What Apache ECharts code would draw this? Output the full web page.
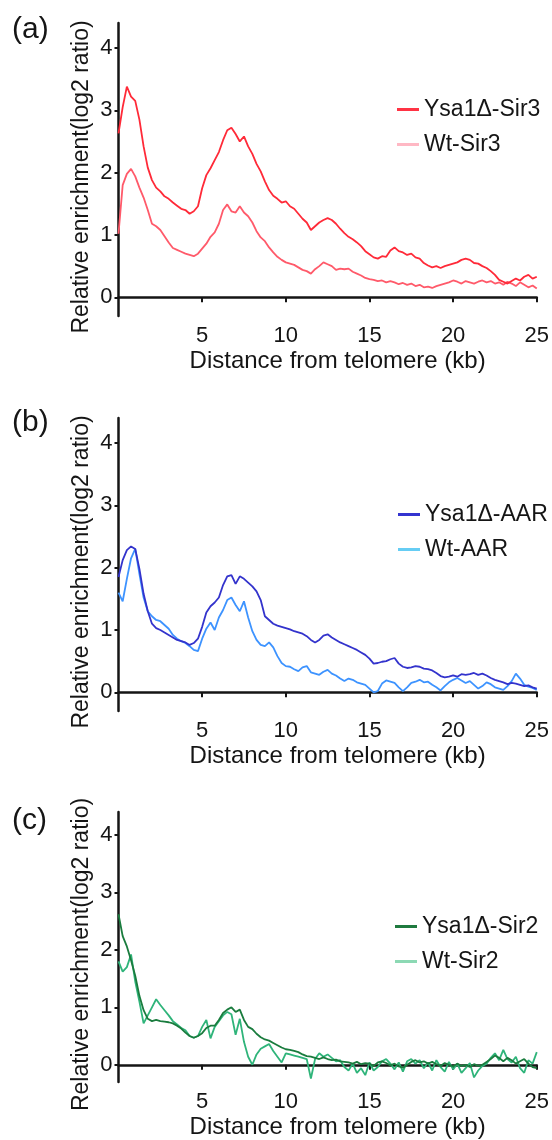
<!DOCTYPE html>
<html>
<head>
<meta charset="utf-8">
<title>Relative enrichment near telomere</title>
<script src="https://cdn.jsdelivr.net/npm/echarts@6/dist/echarts.min.js"></script>
<style>
  html, body { margin: 0; padding: 0; background: #fff; }
  #chart { width: 552px; height: 1140px; }
</style>
</head>
<body>
<div id="chart"></div>
<script>
// distance positions, every 0.25 kb from 0 to 25
const step = 0.25;
const kb = Array.from({ length: 101 }, (_, i) => i * step);

const xTicks = [5, 10, 15, 20, 25];
const yTicks = [0, 1, 2, 3, 4];

// (a) Sir3
const ysaSir3 = [
  2.63, 3.05, 3.38, 3.22, 3.15, 2.85, 2.42, 2.08, 1.88, 1.76, 1.70, 1.62, 1.58, 1.52, 1.47, 1.42, 1.40, 1.34, 1.38, 1.46,
  1.75, 1.96, 2.07, 2.20, 2.33, 2.52, 2.68, 2.72, 2.62, 2.50, 2.58, 2.42, 2.30, 2.14, 2.02, 1.86, 1.72, 1.63, 1.58, 1.52,
  1.54, 1.46, 1.42, 1.34, 1.26, 1.20, 1.08, 1.14, 1.20, 1.24, 1.27, 1.24, 1.18, 1.10, 1.03, 0.97, 0.93, 0.88, 0.82, 0.74,
  0.69, 0.64, 0.62, 0.66, 0.65, 0.75, 0.80, 0.74, 0.72, 0.68, 0.70, 0.64, 0.62, 0.55, 0.51, 0.48, 0.50, 0.47, 0.50, 0.52,
  0.54, 0.56, 0.60, 0.62, 0.60, 0.55, 0.54, 0.50, 0.47, 0.42, 0.36, 0.28, 0.25, 0.22, 0.26, 0.30, 0.27, 0.33, 0.36, 0.30,
  0.33
];
const wtSir3 = [
  1.02, 1.80, 1.98, 2.06, 1.94, 1.76, 1.60, 1.40, 1.18, 1.14, 1.08, 0.98, 0.88, 0.79, 0.76, 0.73, 0.70, 0.68, 0.66, 0.70,
  0.78, 0.86, 0.97, 1.04, 1.18, 1.40, 1.49, 1.38, 1.36, 1.46, 1.36, 1.30, 1.20, 1.06, 0.96, 0.90, 0.80, 0.72, 0.65, 0.60,
  0.56, 0.54, 0.52, 0.48, 0.44, 0.42, 0.38, 0.45, 0.50, 0.56, 0.53, 0.50, 0.44, 0.46, 0.45, 0.46, 0.41, 0.38, 0.35, 0.31,
  0.29, 0.28, 0.26, 0.27, 0.24, 0.26, 0.24, 0.21, 0.23, 0.20, 0.22, 0.18, 0.20, 0.16, 0.17, 0.15, 0.18, 0.20, 0.22, 0.24,
  0.27, 0.25, 0.22, 0.26, 0.24, 0.22, 0.25, 0.27, 0.24, 0.26, 0.22, 0.24, 0.20, 0.25, 0.22, 0.18, 0.24, 0.20, 0.16, 0.19,
  0.14
];

// (b) AAR
const ysaAAR = [
  1.85, 2.12, 2.28, 2.34, 2.30, 1.98, 1.58, 1.30, 1.10, 1.03, 1.00, 0.96, 0.92, 0.88, 0.84, 0.82, 0.80, 0.76, 0.79, 0.86,
  1.05, 1.28, 1.38, 1.44, 1.52, 1.72, 1.86, 1.88, 1.74, 1.86, 1.82, 1.76, 1.70, 1.62, 1.48, 1.22, 1.16, 1.10, 1.07, 1.05,
  1.03, 1.01, 0.98, 0.96, 0.94, 0.90, 0.84, 0.80, 0.84, 0.91, 0.93, 0.88, 0.84, 0.80, 0.77, 0.74, 0.71, 0.68, 0.64, 0.60,
  0.54, 0.46, 0.47, 0.49, 0.50, 0.53, 0.55, 0.46, 0.41, 0.39, 0.40, 0.42, 0.41, 0.38, 0.37, 0.35, 0.31, 0.26, 0.24, 0.25,
  0.27, 0.25, 0.29, 0.28, 0.29, 0.31, 0.28, 0.30, 0.27, 0.23, 0.20, 0.18, 0.16, 0.13, 0.15, 0.14, 0.12, 0.10, 0.11, 0.08,
  0.06
];
const wtAAR = [
  1.60, 1.46, 1.82, 2.15, 2.30, 1.90, 1.52, 1.30, 1.22, 1.16, 1.14, 1.08, 1.02, 0.92, 0.86, 0.82, 0.79, 0.74, 0.68, 0.66,
  0.86, 1.02, 1.12, 1.00, 1.20, 1.32, 1.48, 1.52, 1.40, 1.30, 1.46, 1.20, 0.98, 0.84, 0.76, 0.74, 0.80, 0.72, 0.58, 0.47,
  0.42, 0.41, 0.37, 0.34, 0.40, 0.42, 0.32, 0.30, 0.28, 0.33, 0.36, 0.30, 0.27, 0.22, 0.18, 0.22, 0.20, 0.16, 0.14, 0.12,
  0.06, 0.00, 0.02, 0.14, 0.19, 0.17, 0.15, 0.08, 0.02, 0.08, 0.15, 0.17, 0.20, 0.16, 0.17, 0.12, 0.08, 0.03, 0.10, 0.16,
  0.20, 0.23, 0.19, 0.15, 0.18, 0.12, 0.06, 0.10, 0.16, 0.13, 0.08, 0.06, 0.04, 0.10, 0.18, 0.30, 0.22, 0.12, 0.09, 0.07,
  0.04
];

// (c) Sir2
const ysaSir2 = [
  2.62, 2.24, 2.06, 1.82, 1.55, 1.20, 0.95, 0.80, 0.76, 0.78, 0.76, 0.75, 0.74, 0.72, 0.68, 0.63, 0.56, 0.50, 0.47, 0.50,
  0.55, 0.64, 0.68, 0.68, 0.78, 0.90, 0.96, 1.00, 0.92, 0.96, 0.78, 0.66, 0.62, 0.54, 0.48, 0.44, 0.42, 0.38, 0.34, 0.30,
  0.27, 0.26, 0.24, 0.22, 0.18, 0.15, 0.14, 0.12, 0.10, 0.13, 0.10, 0.08, 0.09, 0.06, 0.05, 0.04, 0.02, 0.05, 0.01, 0.03,
  0.02, -0.02, 0.04, 0.06, 0.03, -0.01, 0.02, -0.03, -0.05, 0.00, 0.05, 0.08, 0.04, 0.06, 0.02, 0.05, 0.01, -0.02, 0.03, 0.00,
  -0.03, 0.02, -0.02, 0.00, -0.04, 0.01, -0.02, 0.00, 0.05, 0.10, 0.16, 0.12, 0.06, 0.12, 0.08, 0.02, 0.06, 0.10, 0.02, -0.04,
  -0.06
];
const wtSir2 = [
  1.80, 1.62, 1.70, 1.92, 1.45, 1.10, 0.72, 0.86, 1.00, 1.14, 1.04, 0.95, 0.86, 0.76, 0.70, 0.64, 0.60, 0.50, 0.47, 0.50,
  0.66, 0.78, 0.46, 0.66, 0.76, 0.86, 0.92, 0.88, 0.52, 0.80, 0.40, 0.14, 0.00, 0.18, 0.28, 0.32, 0.36, 0.24, 0.14, 0.04,
  0.20, 0.18, 0.16, 0.14, 0.12, 0.10, -0.24, 0.10, 0.20, 0.14, 0.18, 0.12, 0.06, 0.08, -0.04, -0.10, 0.02, -0.14, -0.06, -0.18,
  0.04, -0.10, -0.04, 0.06, 0.10, 0.02, -0.08, 0.04, -0.12, 0.06, 0.10, 0.02, 0.08, -0.06, 0.04, -0.10, 0.08, -0.04, -0.12, 0.05,
  -0.08, 0.02, -0.14, -0.06, 0.03, -0.22, -0.10, -0.02, 0.02, 0.12, 0.20, 0.08, 0.26, 0.10, 0.04, 0.14, -0.06, -0.14, 0.08, 0.02,
  0.22
];

const panels = [
  { tag: "(a)", top: 23, tagTop: 15, legendTop: 98, legendLeft: 397,
    ysa: { name: "Ysa1Δ-Sir3", data: ysaSir3, color: "#ff2a38", key: "#ff3344" },
    wt: { name: "Wt-Sir3", data: wtSir3, color: "#ff5a6a", key: "#ffb8c4" } },
  { tag: "(b)", top: 418, tagTop: 408, legendTop: 503, legendLeft: 398,
    ysa: { name: "Ysa1Δ-AAR", data: ysaAAR, color: "#3333cc", key: "#3434d0" },
    wt: { name: "Wt-AAR", data: wtAAR, color: "#3d93ff", key: "#66cdf4" } },
  { tag: "(c)", top: 812, tagTop: 806, legendTop: 915, legendLeft: 395,
    ysa: { name: "Ysa1Δ-Sir2", data: ysaSir2, color: "#1a7c3e", key: "#1f7a3f" },
    wt: { name: "Wt-Sir2", data: wtSir2, color: "#2fb47a", key: "#8cd9b4" } }
];

const font = "Liberation Sans, Arial, sans-serif";
const ink = "#151515";
const toPairs = vals => vals.map((v, i) => [kb[i], v]);

let myChart = echarts.init(document.getElementById("chart"), null, { renderer: "canvas" });

let option = {
  animation: false,
  backgroundColor: "#fff",
  title: panels.map(p => ({
    text: p.tag,
    left: 12,
    top: p.tagTop,
    padding: 0,
    textStyle: { fontFamily: font, fontSize: 30, fontWeight: "normal", color: ink }
  })),
  legend: panels.map(p => ({
    orient: "vertical",
    left: p.legendLeft,
    top: p.legendTop,
    padding: 0,
    itemGap: 12,
    itemWidth: 22,
    itemHeight: 3,
    icon: "rect",
    textStyle: { fontFamily: font, fontSize: 23, color: ink, lineHeight: 23 },
    data: [
      { name: p.ysa.name, itemStyle: { color: p.ysa.key } },
      { name: p.wt.name, itemStyle: { color: p.wt.key } }
    ]
  })),
  grid: panels.map(p => ({
    left: 118.5,
    top: p.top,
    width: 420,
    height: 293
  })),
  xAxis: panels.map((p, k) => ({
    type: "value",
    gridIndex: k,
    min: 0,
    max: 25,
    interval: 5,
    name: "Distance from telomere (kb)",
    nameLocation: "middle",
    nameGap: 33,
    nameMoveOverlap: false,
    nameTextStyle: { fontFamily: font, fontSize: 24, color: ink, padding: [0, 0, 0, 20] },
    splitLine: { show: false },
    axisLine: { show: true, onZero: true, lineStyle: { color: ink, width: 2.5 } },
    axisTick: { show: true, length: 5, customValues: xTicks, lineStyle: { color: ink, width: 2 } },
    axisLabel: { customValues: xTicks, margin: 9, fontFamily: font, fontSize: 22, color: ink }
  })),
  yAxis: panels.map((p, k) => ({
    type: "value",
    gridIndex: k,
    min: -0.3,
    max: 4.4,
    name: "Relative enrichment(log2 ratio)",
    nameLocation: "middle",
    nameGap: 25,
    nameMoveOverlap: false,
    nameTextStyle: { fontFamily: font, fontSize: 23, color: ink, padding: [0, 15, 0, 0] },
    splitLine: { show: false },
    axisLine: { show: true, lineStyle: { color: ink, width: 2.5 } },
    axisTick: { show: true, length: 4, customValues: yTicks, lineStyle: { color: ink, width: 2 } },
    axisLabel: { customValues: yTicks, margin: 6, fontFamily: font, fontSize: 22, color: ink }
  })),
  series: []
};

panels.forEach((p, k) => {
  [p.wt, p.ysa].forEach(s => {
    option.series.push({
      name: s.name,
      type: "line",
      xAxisIndex: k,
      yAxisIndex: k,
      showSymbol: false,
      symbol: "none",
      lineStyle: { color: s.color, width: 1.8 },
      itemStyle: { color: s.color },
      data: toPairs(s.data)
    });
  });
});

myChart.setOption(option);
</script>
</body>
</html>
